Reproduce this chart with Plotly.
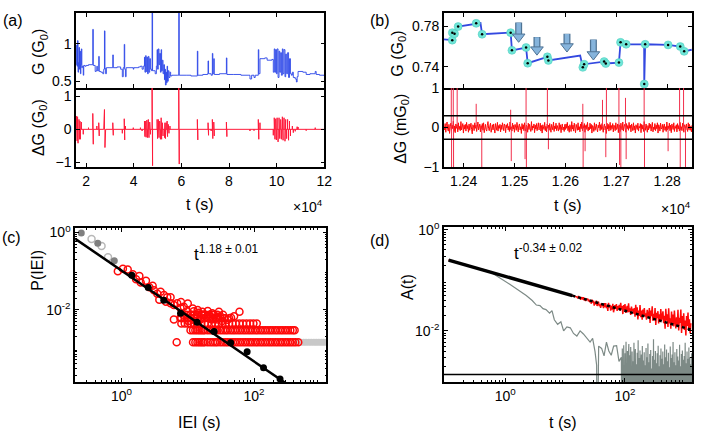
import numpy as np
import plotly.graph_objects as go

FONT = "Liberation Sans, Arial, sans-serif"

# ---------------- panel (a): G(t) and dG(t), t in units of 1e4 s
ga_t = [1.58,1.60,1.62,1.64,1.66,1.68,1.70,1.72,1.74,1.76,1.78,1.80,1.82,1.84,1.88,1.90,1.95,
        2.00,2.10,2.28,2.30,2.38,2.42,2.45,2.47,2.53,2.55,2.62,2.70,2.74,2.77,2.79,2.82,2.85,
        3.00,3.12,3.14,3.30,3.45,3.52,3.56,3.60,3.62,3.65,3.68,3.80,3.98,4.00,4.20,4.28,4.35,4.40,
        4.45,4.47,4.50,4.52,4.55,4.58,4.61,4.64,4.67,4.70,4.75,4.77,4.79,
        4.85,4.90,4.95,4.98,5.00,5.03,5.06,5.09,5.12,5.15,5.17,5.20,5.23,5.26,5.29,5.31,5.33,5.36,5.38,5.40,5.42,5.45,5.48,5.52,5.55,5.60,
        5.85,5.89,5.91,6.20,6.40,6.67,6.69,6.90,7.10,7.12,7.14,7.25,7.30,7.32,7.36,7.38,7.60,7.89,7.91,8.20,8.50,8.80,8.88,8.95,9.05,9.10,9.23,9.25,9.30,9.50,9.60,9.80,9.86,
        9.90,9.93,9.96,9.99,10.02,10.06,10.10,10.13,10.17,10.20,10.24,10.27,10.31,10.35,10.38,10.42,10.46,10.50,10.54,10.58,10.62,10.66,10.70,10.78,10.83,10.86,10.90,11.10,11.24,11.40,11.62,11.66,11.80,12.0]
ga_v = [0.72,0.98,0.70,1.04,0.62,0.75,0.95,0.66,0.90,0.60,0.72,0.93,0.68,0.70,0.58,0.71,0.70,
        0.71,0.72,1.19,0.71,0.63,0.64,0.70,0.64,0.83,0.63,0.62,0.60,0.66,1.17,0.67,0.60,0.68,
        0.68,0.85,0.68,0.69,0.66,0.56,0.68,0.99,0.66,0.56,0.68,0.68,0.66,0.68,0.69,0.70,0.66,0.70,
        0.82,0.62,0.84,0.63,0.82,0.60,0.83,0.62,0.80,0.66,0.64,1.45,0.64,
        0.64,0.60,0.70,0.92,0.66,0.93,0.72,0.87,0.62,0.92,0.64,0.78,0.60,0.72,0.52,0.66,0.45,0.62,0.48,0.70,0.50,0.64,0.55,0.62,0.57,0.58,
        0.58,1.45,0.58,0.58,0.57,0.90,0.58,0.59,0.60,0.77,0.60,0.58,0.87,0.60,0.80,0.59,0.60,0.81,0.59,0.59,0.58,0.58,0.53,0.58,0.55,0.58,0.92,0.60,0.80,0.81,0.78,0.79,0.62,
        0.93,0.62,0.92,0.60,0.93,0.55,0.90,0.62,0.88,0.58,0.93,0.60,0.92,0.56,0.86,0.60,0.88,0.55,0.80,0.60,0.58,0.62,0.55,0.53,0.49,0.56,0.63,0.62,0.59,0.60,0.63,0.59,0.58,0.57]

dga_t = [1.60,1.62,1.64,1.66,1.70,1.72,1.74,1.76,1.80,1.88,2.10,2.28,2.30,2.45,2.53,2.55,2.74,2.77,2.79,2.82,
         3.12,3.14,3.52,3.60,3.62,3.65,3.98,4.28,4.35,4.45,4.47,4.50,4.52,4.55,4.58,4.61,4.64,4.67,4.70,4.77,4.79,
         4.98,5.00,5.03,5.06,5.09,5.12,5.15,5.17,5.20,5.23,5.29,5.31,5.33,5.36,5.40,5.42,5.45,5.48,5.52,5.89,5.91,
         6.67,6.69,7.12,7.14,7.25,7.30,7.32,7.36,7.38,7.89,7.91,8.88,9.05,9.23,9.25,9.30,9.86,
         9.90,9.93,9.96,9.99,10.02,10.06,10.10,10.13,10.17,10.20,10.24,10.27,10.31,10.35,10.38,10.42,10.46,10.50,10.54,10.58,
         10.66,10.70,10.78,10.86,10.90,11.24,11.62]
dga_v = [0.40,-0.35,0.38,-0.42,0.30,-0.30,0.25,-0.30,0.22,-0.15,0.05,0.48,-0.45,0.10,0.20,-0.20,0.15,0.60,-0.55,-0.10,
         0.20,-0.18,-0.12,0.32,-0.32,0.10,0.05,0.05,-0.05,0.25,-0.22,0.25,-0.24,0.28,-0.25,0.30,-0.25,0.22,-0.15,1.30,-1.10,
         0.30,-0.28,0.30,-0.25,0.25,-0.30,0.35,-0.30,0.20,-0.20,-0.25,0.20,-0.28,0.20,0.25,-0.22,0.15,-0.12,0.10,1.30,-1.05,
         0.30,-0.32,0.20,-0.18,-0.05,0.30,-0.28,0.22,-0.20,0.22,-0.22,-0.05,-0.04,0.30,-0.30,0.20,-0.18,
         0.35,-0.30,0.32,-0.32,0.35,-0.38,0.35,-0.28,0.30,-0.30,0.38,-0.33,0.35,-0.36,0.30,-0.28,0.30,-0.33,0.25,-0.20,
         0.10,-0.10,-0.06,0.08,0.07,-0.04,0.05]

# ---------------- panel (b): zoomed G(t) and dG(t), t in units of 1e4 s
gb_t = [1.23613,1.23770,1.23774,1.23776,1.23819,1.23890,1.24245,1.24330,1.24361,1.24900,1.24923,1.24948,
        1.25200,1.25226,1.25258,1.25645,1.25665,1.26290,1.26342,1.26368,1.26761,1.26794,1.27052,1.27084,
        1.27194,1.27548,1.27550,1.27568,1.28019,1.28258,1.28335,1.28484]
gb_v = [0.7670,0.7670,0.7663,0.7737,0.7727,0.7797,0.7829,0.7832,0.7721,0.7737,0.7737,0.7562,
        0.7590,0.7590,0.7435,0.7498,0.7463,0.7511,0.7394,0.7425,0.7451,0.7432,0.7441,0.7641,
        0.7622,0.7622,0.7229,0.7622,0.7616,0.7600,0.7552,0.7568]
ev_t = [1.23774,1.23776,1.23819,1.23890,1.24245,1.24361,1.24923,1.24948,1.25226,1.25258,1.25645,1.25665,
        1.26342,1.26368,1.26761,1.26794,1.27052,1.27084,1.27194,1.27550,1.27568,1.28019,1.28258,1.28335]
ev_v = [0.7663,0.7737,0.7727,0.7797,0.7829,0.7721,0.7737,0.7562,0.7590,0.7435,0.7498,0.7463,
        0.7394,0.7425,0.7451,0.7432,0.7441,0.7641,0.7622,0.7229,0.7622,0.7616,0.7600,0.7552]
arrow_t = [1.2508, 1.2544, 1.2603, 1.2655]
arrow_tip = [0.7648, 0.7521, 0.7552, 0.7473]
arrow_tail = [0.7838, 0.7695, 0.7727, 0.7670]

noise_b = [3,-6,10,-12,5,14,-4,-9,8,-15,2,11,-7,6,-3,16,-10,4,-13,9,-2,7,-11,12,-5,3,-8,15,-6,1,10,-14,6,-4,8,-9,13,-3,5,-12,
           9,-7,2,11,-5,-16,7,4,-8,12,-2,6,-10,3,14,-6,-1,9,-11,5,-4,10,-7,12,-13,3,8,-5,-9,6,15,-3,-8,4,11,-12,2,7,-6,9,
           -4,-14,10,1,-7,13,-9,5,-2,8,-11,6,-5,12,-3,-8,9,4,-13,7,-1,10,-6,3,-10,14,-5,2,-9,11,-4,6,-12,8,1,-7,13,-3,-11,5,
           9,-6,2,-15,10,-4,7,-8,12,-2,-9,6,3,-12,11,-5,8,-3,-10,15,-7,4,-1,9,-13,6,-4,10,-8,2,12,-6,-3,11,-9,5,-14,7,1,-5,
           13,-8,3,-11,9,-2,6,-7,10,-4,-12,8,2,-6,14,-10,4,-3,11,-8,5,-1,-9,12,-5,7,-13,3,9,-6,1,-10,8]
noise_b2 = [-5,9,-2,13,-8,4,-12,7,1,-10,15,-4,6,-9,11,-1,-13,8,3,-7,12,-6,2,-11,9,-3,14,-8,5,-2,10,-12,4,7,-5,13,-9,1,-6,11,
            -3,8,-14,5,2,-10,12,-7,3,9,-4,-11,6,-1,14,-8,7,-5,10,-2,-12,4,9,-6,3,-15,11,-4,8,-9,2,13,-7,5,-3,10,-11,6,1,-8,
            12,-5,-2,9,-13,7,4,-10,11,-1,-6,14,-9,3,8,-4,-12,10,-3,5,-7,13,-2,6,-11,9,1,-8,12,-6,4,-14,7,2,-5,11,-9,3,-1,10,
            -13,8,-4,6,-10,15,-3,-7,9,2,-12,5,-6,11,-2,8,-9,4,13,-11,1,-5,10,-8,6,-3,12,-14,7,3,-9,11,-4,-1,8,-12,5,9,-7,2,
            -10,14,-6,4,-3,11,-8,6,-13,9,1,-5,12,-10,3,-2,7,-11,10,-4,5,-9,13,-6,2,-8,11,-1,-12,7,4,-6,9,-3,-10,12,-5,8,-7,3,-11,6]
dgb_t = [1.23755,1.23761,1.23794,1.23800,1.23871,1.24245,1.24355,1.24923,1.24935,1.25206,1.25226,1.25232,1.25645,1.25665,
         1.26342,1.26348,1.26387,1.26729,1.26794,1.26806,1.27052,1.27065,1.27090,1.27181,1.27194,1.27548,1.27555,1.28019,
         1.28245,1.28258,1.28323,1.28361]
dgb_v = [1.2,-1.2,1.2,-1.2,1.2,0.6,-1.2,0.45,-0.85,-0.8,1.2,-1.2,1.2,-0.55,
         0.6,-1.2,-0.6,0.7,-0.75,1.2,1.2,-0.95,-1.2,0.75,-0.8,1.2,-1.2,-0.6,
         1.2,-1.2,1.2,-1.2]
thr_b = 0.3

# ---------------- panel (c): P(IEI)
fit_c_x = [0.2, 310]
fit_c_y = [0.69, 1.2e-4]
bin_c_x = [1.43, 2.53, 4.34, 7.78, 13.8, 25.0, 44.4, 78.7, 139, 247]
bin_c_y = [0.078, 0.0376, 0.0175, 0.0081, 0.0047, 0.0027, 0.00139, 0.00081, 0.00031, 0.00016]
grey_full_x = [0.247, 0.438, 0.778]
grey_full_y = [0.98, 0.53, 0.185]
grey_open_x = [0.353, 0.50, 0.625]
grey_open_y = [0.68, 0.447, 0.228]
scat_x = [0.88,1.05,1.24,1.48,1.66,1.86,1.95,2.34,2.63,2.95,3.09,3.47,3.89,4.37,4.90,5.50,3.72,4.68,5.50,6.17,6.92,
          7.76,8.71,9.77,11.0,12.3,14.5,16.2,6.17,7.76,10.2,13.0,15.5,7.9,10.0,11.9,14.1,16.6,20.0,23.4,29.5,35.5,
          39.8,60.3,6.8,18,21,25,27,31,34,45,50,19,23,28,33]
scat_y = [0.100,0.115,0.110,0.083,0.062,0.075,0.051,0.056,0.038,0.042,0.032,0.026,0.029,0.024,0.021,0.021,0.018,0.016,
          0.0148,0.0133,0.0148,0.011,0.012,0.0091,0.0075,0.0091,0.0083,0.0075,0.0056,0.0062,0.0051,0.0051,0.0056,0.0158,
          0.0145,0.0107,0.0098,0.0089,0.0093,0.0081,0.0089,0.0060,0.0055,0.0089,0.00144,0.0074,0.0068,0.0074,0.0062,
          0.0068,0.0074,0.0062,0.0068,0.0062,0.0056,0.0056,0.0051]
row1_x = [12,13,14,15,16,17,18,20,22,24,26,28,31,34,37,40,44,48,52,57,62,68,74,81,88,96,105,114,125,136,148,162,176,
          192,210,229,250,272,297,324,353,385,420,465]
row2_x = [11,12,13,14,15,16,17,18,20,22,24,26,28,31,34,37,40,44,48,52,57,62,68,74,81,88,96,105,114,125,136,148,162,
          176,192,210,229,250,272,297,324,353,385,410]
row3_x = [8,9,10,11,12.5,14,16,18,20,23,26,29,33,37,42,47,53,60,68,77,87,98,110]
row4_x = [8,9,10,11,12.5,14,16,18,21,24,27,31,36,42]
row5_x = [8.5,9.5,11,12.5,14,16,18,21,24,28]
row_y = [0.00144, 0.00294, 0.0044, 0.0060, 0.0074]
tail_x = [470,510,560,610,670,730,800,870,950,1040,1130,1230,1300]

# ---------------- panel (d): A(t)
fit_d_x = [0.113, 13.2]
fit_d_y = [0.251, 0.0498]
fitdot_d_x = [13.2, 1260]
fitdot_d_y = [0.0498, 0.0106]
red_s_x = [0.113,0.14,0.18,0.22,0.28,0.35,0.45,0.56,0.7,0.9,1.1,1.4,1.8,2.2,2.8,3.5,4.5,5.6,7,9,11,14,15.8]
red_s_y = [0.251,0.236,0.212,0.203,0.183,0.174,0.155,0.148,0.133,0.126,0.114,0.108,0.097,0.093,0.083,0.079,
           0.071,0.067,0.061,0.057,0.0525,0.049,0.0468]
red_n_y = [47.9,43.9,49.1,44.8,46.9,41.3,44.7,46.3,41.7,46.1,41.5,42.8,39.1,43.4,40.8,43.2,38.4,41.1,36.8,39.7,
           34.4,41.4,36.3,39.5,31.5,37.6,33.7,39.7,31.0,35.0,37.7,31.0,33.5,28.4,35.3,31.2,33.9,28.1,35.4,29.5,
           35.3,28.3,31.8,24.9,35.9,29.1,32.8,25.2,31.2,26.4,34.2,23.3,29.6,32.4,27.1,33.9,24.9,30.8,27.4,32.7,
           24.8,35.7,26.7,31.1,21.5,32.5,25.6,33.7,22.6,28.2,31.2,23.1,35.0,23.9,27.8,20.6,30.2,24.8,27.3,21.8,
           28.3,19.0,32.9,21.8,29.3,16.9,25.1,19.7,32.3,18.7,25.1,16.6,26.4,20.8,28.3,19.1,22.3,16.7,26.1,20.5,
           18.6,28.3,14.4,25.2,19.6,30.5,15.8,21.7,16.8,28.4,13.1,22.8,17.8,24.5,14.0,21.3,15.3,26.9,16.4,19.2,
           24.4,14.2,19.8,11.0,27.3,16.0,21.2,12.0,27.9,14.1,17.8,11.0,24.1,14.4,21.0,12.3,25.2,15.4,11.2,18.5,
           12.6,26.0,10.2,18.2,14.4,26.4,9.1,19.7,12.4,22.2,10.4,16.0,8.1,19.7,12.5,23.0,10.4,17.0,8.9,14.2]
grey1_x = [0.113,0.2,0.316,0.462,0.63,1.19,1.58,2.24,2.82,3.31,3.8,4.27,4.79,5.5,6.03,6.6,7.5,8.5,9.44,10.7,12.2,
           13.8,15.7,17.8,20.2,22.9,26.1,28.8,31.6,33.6,34.3,36.3,40.7,44.7,49,53.7,58.9,64.6,72.4,79.4,87]
grey1_y = [0.251,0.207,0.176,0.161,0.135,0.0832,0.0661,0.0501,0.0398,0.0324,0.0316,0.0275,0.0263,0.0224,0.0251,0.0166,
           0.0135,0.0151,0.0100,0.0120,0.0115,0.0089,0.0079,0.0100,0.0087,0.0071,0.0060,0.0071,0.0039,0.0021,0.00001,
           0.0050,0.0045,0.0032,0.0060,0.0040,0.0033,0.0050,0.0051,0.0025,0.0029]
grey2_y = [3.0,0.01,4.5,1.8,0.01,5.2,2.4,0.01,3.6,0.01,6.1,2.0,0.01,4.0,0.01,2.7,5.5,0.01,3.3,0.01,4.8,1.9,0.01,3.9,0.01,
           2.5,0.01,5.8,0.01,3.1,4.4,0.01,2.2,0.01,3.7,0.01,6.5,0.01,2.9,0.01,4.1,0.01,1.9,3.4,0.01,5.0,0.01,2.6,0.01,3.8,
           0.01,2.1,0.01,4.6,0.01,3.0,0.01,5.6,0.01,2.4,0.01,3.5,0.01,4.2,0.01,1.8,0.01,3.2,0.01,6.8,0.01,2.7,0.01,4.0,0.01,
           2.3,0.01,3.6,0.01,5.1,0.01,2.0,0.01,3.3,0.01,4.5,0.01,2.8,0.01,3.9,0.01,2.2,0.01,5.4,0.01,3.0,0.01,4.3,0.01,2.5,
           0.01,3.7,0.01,1.9,0.01,4.9,0.01,2.9,0.01,3.4,0.01,6.0,0.01,2.4,0.01,3.8,0.01,2.1,0.01,4.4,0.01,3.1,0.01,2.6,0.01,
           5.3,0.01,2.0,0.01,3.5,0.01,4.1,0.01,2.7,0.01,3.2,0.01,5.8,0.01,2.3,0.01,3.9,0.01,2.8,0.01,4.7,0.01,3.0,0.01,2.2,
           0.01,3.6]
floor_d = 0.00138

# ================= build figure
fig = go.Figure()
BLUE = "#2a45e8"
RED = "#ff0a0a"

def add(tr):
    fig.add_trace(tr)

# (a) top
add(go.Scatter(x=ga_t, y=ga_v, mode="lines", line=dict(color=BLUE, width=0.9, shape="hv"),
               xaxis="x", yaxis="y", showlegend=False))
# (a) bottom
pairs = sorted(zip(dga_t, dga_v))
xa, ya = [1.58], [0.0]
for t, a in pairs:
    xa += [t, t, t]
    ya += [0.0, a, 0.0]
xa.append(12.0); ya.append(0.0)
add(go.Scatter(x=xa, y=ya, mode="lines", line=dict(color="#ff1a3a", width=1),
               xaxis="x2", yaxis="y2", showlegend=False))

# (b) top
add(go.Scatter(x=gb_t, y=gb_v, mode="lines", line=dict(color="#3348e0", width=1.8),
               xaxis="x3", yaxis="y3", showlegend=False))
add(go.Scatter(x=ev_t, y=ev_v, mode="markers",
               marker=dict(color="#6fe6d8", size=8, line=dict(color="#4cc8bb", width=0.5)),
               xaxis="x3", yaxis="y3", showlegend=False))
add(go.Scatter(x=ev_t, y=ev_v, mode="markers", marker=dict(color="black", size=2.5),
               xaxis="x3", yaxis="y3", showlegend=False))
# arrows: outlined shaft + triangular head
HEAD_OFF = 0.0048
for t, tip, tail in zip(arrow_t, arrow_tip, arrow_tail):
    add(go.Scatter(x=[t, t], y=[tail, tip + HEAD_OFF], mode="lines", line=dict(color="#4f7394", width=7),
                   xaxis="x3", yaxis="y3", showlegend=False, hoverinfo="skip"))
    add(go.Scatter(x=[t, t], y=[tail - 0.0004, tip + HEAD_OFF], mode="lines", line=dict(color="#86b4dc", width=4.5),
                   xaxis="x3", yaxis="y3", showlegend=False, hoverinfo="skip"))
    add(go.Scatter(x=[t], y=[tip + HEAD_OFF], mode="markers",
                   marker=dict(symbol="triangle-down", size=11, color="#86b4dc", line=dict(color="#4f7394", width=1)),
                   xaxis="x3", yaxis="y3", showlegend=False, hoverinfo="skip"))
# (b) bottom
noise_all = noise_b + noise_b2
tn = np.linspace(1.2361, 1.2849, len(noise_all))
add(go.Scatter(x=tn, y=[v / 100 for v in noise_all], mode="lines", line=dict(color=RED, width=1),
               xaxis="x4", yaxis="y4", showlegend=False))
xs, ys = [], []
for t, a in zip(dgb_t, dgb_v):
    xs += [t, t, None]
    ys += [0, a, None]
add(go.Scatter(x=xs, y=ys, mode="lines", line=dict(color="#f2304c", width=1),
               xaxis="x4", yaxis="y4", showlegend=False))
for lev in (thr_b, -thr_b):
    add(go.Scatter(x=[1.2361, 1.2849], y=[lev, lev], mode="lines", line=dict(color="black", width=1.5),
                   xaxis="x4", yaxis="y4", showlegend=False))

# (c)
add(go.Scatter(x=tail_x, y=[row_y[0]] * len(tail_x), mode="markers",
               marker=dict(color="#c8c8c8", size=7), xaxis="x5", yaxis="y5", showlegend=False))
for rx, ry in zip([row1_x, row2_x, row3_x, row4_x, row5_x], row_y):
    add(go.Scatter(x=rx, y=[ry] * len(rx), mode="markers",
                   marker=dict(symbol="circle-open", color=RED, size=7, line=dict(width=1.5)),
                   xaxis="x5", yaxis="y5", showlegend=False))
add(go.Scatter(x=scat_x, y=scat_y, mode="markers",
               marker=dict(symbol="circle-open", color=RED, size=7, line=dict(width=1.5)),
               xaxis="x5", yaxis="y5", showlegend=False))
add(go.Scatter(x=grey_open_x, y=grey_open_y, mode="markers",
               marker=dict(symbol="circle-open", color="#b8b8b8", size=7, line=dict(width=1.5)),
               xaxis="x5", yaxis="y5", showlegend=False))
add(go.Scatter(x=grey_full_x, y=grey_full_y, mode="markers",
               marker=dict(color="#808080", size=7), xaxis="x5", yaxis="y5", showlegend=False))
add(go.Scatter(x=fit_c_x, y=fit_c_y, mode="lines", line=dict(color="black", width=2.5),
               xaxis="x5", yaxis="y5", showlegend=False))
add(go.Scatter(x=bin_c_x, y=bin_c_y, mode="markers", marker=dict(color="black", size=7),
               xaxis="x5", yaxis="y5", showlegend=False))

# (d)
gx2 = np.geomspace(87, 1300, len(grey2_y))
add(go.Scatter(x=list(grey1_x) + list(gx2), y=list(grey1_y) + [v / 1000 for v in grey2_y],
               mode="lines", line=dict(color="#7d8a86", width=1.2),
               xaxis="x6", yaxis="y6", showlegend=False))
rx_n = np.geomspace(15.8, 1260, len(red_n_y))
add(go.Scatter(x=list(red_s_x) + list(rx_n), y=list(red_s_y) + [v / 1000 for v in red_n_y],
               mode="lines", line=dict(color=RED, width=1.5),
               xaxis="x6", yaxis="y6", showlegend=False))
add(go.Scatter(x=fit_d_x, y=fit_d_y, mode="lines", line=dict(color="black", width=3.5),
               xaxis="x6", yaxis="y6", showlegend=False))
add(go.Scatter(x=fitdot_d_x, y=fitdot_d_y, mode="lines", line=dict(color="black", width=2.5, dash="dot"),
               xaxis="x6", yaxis="y6", showlegend=False))
add(go.Scatter(x=[0.09, 1400], y=[floor_d, floor_d], mode="lines", line=dict(color="black", width=1.5),
               xaxis="x6", yaxis="y6", showlegend=False))

# ================= axes
def ax(**kw):
    base = dict(showline=True, linecolor="black", linewidth=1.5, mirror="ticks", ticks="inside",
                ticklen=4, tickwidth=1.2, tickcolor="black", showgrid=False, zeroline=False,
                tickfont=dict(size=14, family=FONT, color="black"))
    base.update(kw)
    return base

px_x = lambda p: p / 704
px_y = lambda p: 1 - p / 443

dom_ax = [px_x(77), px_x(328)]
dom_bx = [px_x(449), px_x(700)]
dom_top = [px_y(83), px_y(5)]
dom_bot = [px_y(165), px_y(83)]

minor_vals = [m * 10 ** e for e in range(-5, 4) for m in range(2, 10)]
minor = dict(ticks="inside", ticklen=2, tickcolor="black", tickvals=minor_vals)

layout = dict(
    width=704, height=443, autosize=False, margin=dict(l=0, r=0, t=0, b=0),
    paper_bgcolor="white", plot_bgcolor="white", font=dict(family=FONT, color="black"),
    xaxis=ax(domain=dom_ax, anchor="y", range=[1.58, 12.0], tickvals=[2, 4, 6, 8, 10, 12], showticklabels=False),
    yaxis=ax(domain=dom_top, anchor="x", range=[0.41, 1.41], tickvals=[0.5, 1], ticktext=["0.5", "1"]),
    xaxis2=ax(domain=dom_ax, anchor="y2", range=[1.58, 12.0], tickvals=[2, 4, 6, 8, 10, 12], mirror=False),
    yaxis2=ax(domain=dom_bot, anchor="x2", range=[-1.14, 1.25], tickvals=[-1, 0, 1]),
    xaxis3=ax(domain=dom_bx, anchor="y3", range=[1.2361, 1.2849], tickvals=[1.24, 1.25, 1.26, 1.27, 1.28],
              showticklabels=False),
    yaxis3=ax(domain=dom_top, anchor="x3", range=[0.719, 0.7933], tickvals=[0.74, 0.78], ticktext=["0.74", "0.78"]),
    xaxis4=ax(domain=dom_bx, anchor="y4", range=[1.2361, 1.2849], tickvals=[1.24, 1.25, 1.26, 1.27, 1.28],
              ticktext=["1.24", "1.25", "1.26", "1.27", "1.28"], mirror=False),
    yaxis4=ax(domain=dom_bot, anchor="x4", range=[-1, 1], tickvals=[-1, 0, 1]),
    xaxis5=ax(domain=[px_x(76), px_x(330)], anchor="y5", type="log", range=[-0.70, 3.09],
              tickvals=[1, 100], ticktext=["10<sup>0</sup>", "10<sup>2</sup>"], minor=minor),
    yaxis5=ax(domain=[px_y(388), px_y(228)], anchor="x5", type="log", range=[-3.875, 0.125],
              tickvals=[1, 0.01], ticktext=["10<sup>0</sup>", "10<sup>-2</sup>"], minor=minor),
    xaxis6=ax(domain=dom_bx, anchor="y6", type="log", range=[-1.025, 3.12],
              tickvals=[1, 100], ticktext=["10<sup>0</sup>", "10<sup>2</sup>"], minor=minor),
    yaxis6=ax(domain=[px_y(388), px_y(227)], anchor="x6", type="log", range=[-3.01, 0.057],
              tickvals=[1, 0.01], ticktext=["10<sup>0</sup>", "10<sup>-2</sup>"], minor=minor),
)

ann = []
def text(x, y, s, size=16, angle=0, xanchor="center", yanchor="middle"):
    ann.append(dict(x=px_x(x), y=px_y(y), xref="paper", yref="paper", text=s, showarrow=False,
                    font=dict(size=size, family=FONT, color="black"), textangle=angle,
                    xanchor=xanchor, yanchor=yanchor))

# panel labels
text(13, 13, "(a)", 16)
text(384, 13, "(b)", 16)
text(12, 238, "(c)", 16)
text(384, 241, "(d)", 16)
# y titles
text(40, 46, "G (G<sub>0</sub>)", 16, -90)
text(40, 124, "ΔG (G<sub>0</sub>)", 16, -90)
text(403, 47, "G (G<sub>0</sub>)", 16, -90)
text(406, 125, "ΔG (mG<sub>0</sub>)", 16, -90)
text(38, 272, "P(IEI)", 16, -90)
text(412, 289, "A(t)", 16, -90)
# x titles
text(202, 204, "t (s)", 16)
text(575, 205, "t (s)", 16)
text(202, 430, "IEI (s)", 16)
text(569, 430, "t (s)", 16)
text(329, 205, "×10<sup>4</sup>", 14, xanchor="right")
text(701, 207, "×10<sup>4</sup>", 14, xanchor="right")
# fit exponents
text(194, 254, "t<sup>1.18 ± 0.01</sup>", 17, xanchor="left")
text(518, 253, "t<sup>-0.34 ± 0.02</sup>", 17, xanchor="left")

layout["annotations"] = ann
fig.update_layout(**layout)
fig.write_html("out.html", config={"displayModeBar": False},
               post_script="document.body.style.margin='0';document.body.style.padding='0';"
                           "document.body.style.overflow='hidden';")
